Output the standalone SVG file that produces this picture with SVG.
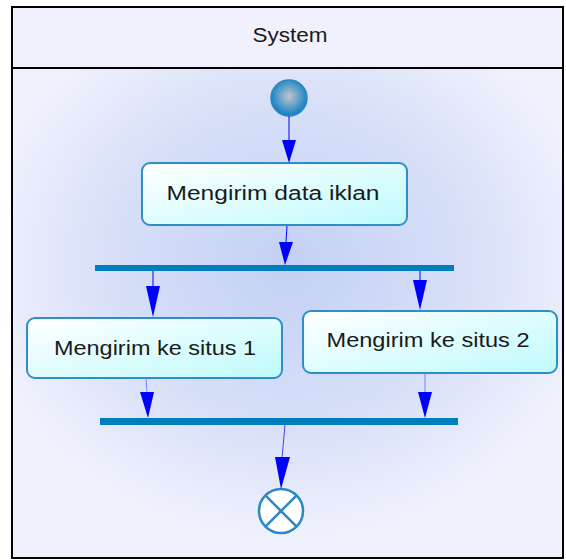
<svg xmlns="http://www.w3.org/2000/svg" width="566" height="560" viewBox="0 0 566 560">
<defs>
<radialGradient id="lane" cx="0.5" cy="0.4" r="0.55">
<stop offset="0" stop-color="#C4D0F4"/>
<stop offset="0.6" stop-color="#D8E0F8"/>
<stop offset="1" stop-color="#EEF0FC"/>
</radialGradient>
<linearGradient id="box" x1="0" y1="0" x2="1" y2="1">
<stop offset="0" stop-color="#FFFFFF"/>
<stop offset="1" stop-color="#BFFAFC"/>
</linearGradient>
<radialGradient id="start" cx="0.5" cy="0.45" r="0.5">
<stop offset="0" stop-color="#C0C4CC"/>
<stop offset="1" stop-color="#1C84C4"/>
</radialGradient>
<style>
.node rect.act{fill:url(#box);stroke:#2E8FC6;stroke-width:2}
.lbl{font-family:"Liberation Sans",Arial,sans-serif;font-size:20px;fill:#1a1a1a;text-anchor:middle}
.bar{fill:#007DBD}
.head{fill:#0000FF}
</style>
</defs>
<rect x="0" y="0" width="566" height="560" fill="#FFFFFF"/>
<g id="lane-system">
<rect x="12" y="7" width="551" height="61" fill="#F0F1FC"/>
<rect x="12" y="68" width="551" height="490" fill="url(#lane)"/>
<rect x="12" y="7" width="551" height="551" fill="none" stroke="#000" stroke-width="2"/>
<line x1="12" y1="68" x2="563" y2="68" stroke="#000" stroke-width="2"/>
<text class="lbl" x="290" y="42" textLength="75" lengthAdjust="spacingAndGlyphs">System</text>
</g>
<g id="start-node">
<circle cx="289" cy="98" r="18" fill="url(#start)" stroke="#2A88C4" stroke-width="1.5"/>
</g>
<g id="act-data" class="node">
<rect class="act" x="142" y="163" width="265" height="62" rx="8"/>
<text class="lbl" x="273" y="200" textLength="213" lengthAdjust="spacingAndGlyphs">Mengirim data iklan</text>
</g>
<g id="fork" class="node">
<rect class="bar" x="95" y="265" width="359" height="6"/>
</g>
<g id="act-situs1" class="node">
<rect class="act" x="27" y="318" width="255" height="60" rx="8"/>
<text class="lbl" x="155" y="355" textLength="202" lengthAdjust="spacingAndGlyphs">Mengirim ke situs 1</text>
</g>
<g id="act-situs2" class="node">
<rect class="act" x="303" y="311" width="254" height="62" rx="8"/>
<text class="lbl" x="428" y="347" textLength="203" lengthAdjust="spacingAndGlyphs">Mengirim ke situs 2</text>
</g>
<g id="join" class="node">
<rect class="bar" x="100" y="418" width="358" height="7"/>
</g>
<g id="end-node">
<circle cx="281" cy="511" r="22" fill="#FFFFFF" stroke="#2A88C4" stroke-width="2.5"/>
<line x1="265.4" y1="495.4" x2="296.6" y2="526.6" stroke="#2A88C4" stroke-width="2.5"/>
<line x1="296.6" y1="495.4" x2="265.4" y2="526.6" stroke="#2A88C4" stroke-width="2.5"/>
</g>
<g id="connectors">
<line x1="289" y1="116" x2="289" y2="140" stroke="#0000FF"/>
<path class="head" d="M282,140 L296,140 L289,163 z"/>
<line x1="287" y1="226" x2="286" y2="242" stroke="#0000FF"/>
<path class="head" d="M279,242 L293,242 L285,265 z"/>
<line x1="153" y1="271" x2="153" y2="294" stroke="#0000FF"/>
<path class="head" d="M146,286 L160,286 L153,317 z"/>
<line x1="420" y1="271" x2="420" y2="286" stroke="#0000FF"/>
<path class="head" d="M413,280 L427,280 L420,310 z"/>
<line x1="146" y1="378" x2="147" y2="392" stroke="#8080FF"/>
<path class="head" d="M140,392 L154,392 L148,418 z"/>
<line x1="425" y1="373" x2="425" y2="392" stroke="#8080FF"/>
<path class="head" d="M418,392 L432,392 L425,418 z"/>
<line x1="285" y1="425" x2="282" y2="458" stroke="#4040FF"/>
<path class="head" d="M275,457 L290,457 L281,489 z"/>
</g>
</svg>
